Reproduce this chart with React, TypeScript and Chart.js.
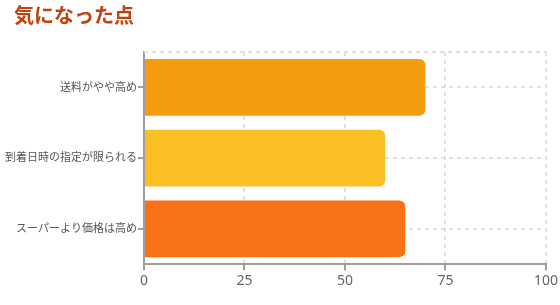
import React, { useEffect, useRef } from "react";
import { Chart, registerables } from "chart.js";

Chart.register(...registerables);

const title = "気になった点";
const categories = ["送料がやや高め", "到着日時の指定が限られる", "スーパーより価格は高め"];
const values = [70, 60, 65];
const barColors = ["#f39c0e", "#fbbf24", "#f97316"];
const xTicks = [0, 25, 50, 75, 100];

const FONT = "'Noto Sans', 'Noto Sans CJK JP', sans-serif";

const topLinePlugin = {
  id: "topLine",
  beforeDatasetsDraw(chart: any) {
    const { ctx, chartArea } = chart;
    ctx.save();
    ctx.strokeStyle = "#e0e0e0";
    ctx.lineWidth = 2;
    ctx.setLineDash([4, 4]);
    ctx.beginPath();
    ctx.moveTo(chartArea.left, chartArea.top);
    ctx.lineTo(chartArea.right, chartArea.top);
    ctx.stroke();
    ctx.restore();
  },
};

export default function App() {
  const ref = useRef<HTMLCanvasElement>(null);
  useEffect(() => {
    const chart = new Chart(ref.current!, {
      type: "bar",
      data: {
        labels: categories,
        datasets: [
          {
            data: values,
            backgroundColor: barColors,
            borderRadius: 6,
            borderSkipped: "start",
            categoryPercentage: 0.8,
            barPercentage: 1,
          },
        ],
      },
      options: {
        indexAxis: "y",
        animation: false,
        responsive: false,
        maintainAspectRatio: false,
        layout: { padding: { left: 4, top: 52, right: 0, bottom: 14 } },
        plugins: { legend: { display: false }, tooltip: { enabled: false }, title: { display: false } },
        scales: {
          x: {
            min: 0,
            max: 100,
            afterBuildTicks: (s: any) => {
              s.ticks = xTicks.map((v) => ({ value: v }));
            },
            grid: { color: "#e0e0e0", lineWidth: 2, tickColor: "#9e9e9e", tickLength: 6, tickWidth: 2 },
            border: { color: "#9e9e9e", width: 2, dash: [4, 4] },
            ticks: { color: "#666", font: { family: FONT, size: 14 }, padding: 2 },
          },
          y: {
            grid: { color: "#e0e0e0", lineWidth: 2, offset: false, tickColor: "#9e9e9e", tickLength: 6, tickWidth: 2 },
            border: { color: "#9e9e9e", width: 2, dash: [4, 4] },
            ticks: { color: "#555", font: { family: FONT, size: 11 }, padding: 1 },
          },
        },
      },
      plugins: [topLinePlugin],
    });
    return () => chart.destroy();
  }, []);
  return (
    <div style={{ position: "fixed", left: 0, top: 0, width: 560, height: 305, background: "#fff" }}>
      <div
        style={{
          position: "absolute",
          left: 14,
          top: 3,
          fontFamily: "'Noto Sans CJK JP', sans-serif",
          fontWeight: 700,
          fontSize: 20,
          lineHeight: "24px",
          color: "#c2410c",
        }}
      >
        {title}
      </div>
      <canvas ref={ref} width={560} height={305} style={{ display: "block" }} />
    </div>
  );
}
